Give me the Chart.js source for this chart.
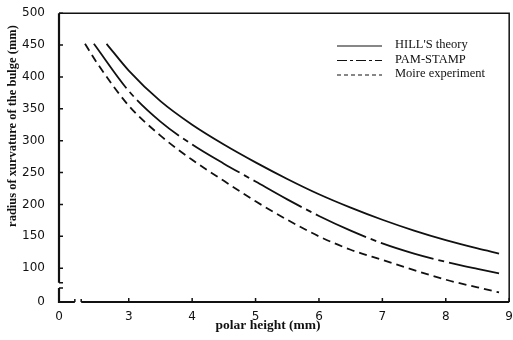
<!DOCTYPE html>
<html lang="en">
<head>
<title>Radius of curvature of the bulge</title>
<script src="https://cdn.jsdelivr.net/npm/chart.js"></script>
<style>
  html, body { margin: 0; padding: 0; background: #fff; }
  #wrap { width: 513px; height: 340px; }
</style>
</head>
<body>
<div id="wrap"><canvas id="bulgeChart" width="513" height="340"></canvas></div>
<script>
// values (polar height in mm, radius in mm)
const hillX = [2.65, 3.0, 3.5, 4.0, 4.5, 5.0, 5.5, 6.0, 6.5, 7.0, 7.5, 8.0, 8.5, 8.84];
const hillY = [452, 410, 362, 325, 294, 266, 240, 216, 195, 176, 159, 144, 131, 123];
const pamX = [2.45, 3.0, 3.5, 4.0, 4.5, 5.0, 5.5, 6.0, 6.5, 7.0, 7.5, 8.0, 8.5, 8.84];
const pamY = [452, 378, 330, 294, 264, 236, 208, 182, 159, 139, 123, 110, 99, 92];
const moireX = [2.31, 2.5, 3.0, 3.5, 4.0, 4.5, 5.0, 5.5, 6.0, 6.5, 7.0, 7.5, 8.0, 8.5, 8.84];
const moireY = [452, 422, 355, 308, 270, 237, 205, 176, 150, 129, 113, 97, 82, 70, 62];

const seriesNames = ["HILL'S theory", 'PAM-STAMP', 'Moire experiment'];

// broken axes: the lowest tick stands for 0
const xTicks = [1.9, 3, 4, 5, 6, 7, 8, 9];
const xTickLabels = ['0', '3', '4', '5', '6', '7', '8', '9'];
const yTicks = [47, 100, 150, 200, 250, 300, 350, 400, 450, 500];
const yTickLabels = ['0', '100', '150', '200', '250', '300', '350', '400', '450', '500'];

const xTitle = 'polar height (mm)';
const yTitle = 'radius of xurvature of the bulge (mm)';

function pts(xs, ys) { return xs.map((x, i) => ({ x: x, y: ys[i] })); }

const ink = '#111';
const legendDash = [[], [10, 3, 3, 3], [4, 3]];

const framePlugin = {
  id: 'frame',
  afterDraw(chart) {
    const ctx = chart.ctx, a = chart.chartArea;
    const xs = chart.scales.x, ys = chart.scales.y;
    ctx.save();
    ctx.strokeStyle = ink;
    // top and right border
    ctx.lineWidth = 1.5;
    ctx.beginPath();
    ctx.moveTo(a.left, a.top); ctx.lineTo(a.right, a.top); ctx.lineTo(a.right, a.bottom);
    ctx.stroke();
    // left and bottom axes with breaks
    ctx.lineWidth = 2.2;
    const xb1 = xs.getPixelForValue(2.15), xb2 = xs.getPixelForValue(2.25);
    const yb1 = ys.getPixelForValue(69), yb2 = ys.getPixelForValue(77);
    ctx.beginPath();
    ctx.moveTo(a.left, a.top); ctx.lineTo(a.left, yb2);
    ctx.moveTo(a.left, yb1); ctx.lineTo(a.left, a.bottom);
    ctx.lineTo(xb1, a.bottom);
    ctx.moveTo(xb2, a.bottom); ctx.lineTo(a.right, a.bottom);
    ctx.stroke();
    ctx.lineWidth = 1.5;
    ctx.beginPath();
    ctx.moveTo(a.left, yb2); ctx.lineTo(a.left + 4, yb2);
    ctx.moveTo(a.left, yb1); ctx.lineTo(a.left + 4, yb1);
    ctx.moveTo(xb1, a.bottom); ctx.lineTo(xb1, a.bottom - 3);
    ctx.moveTo(xb2, a.bottom); ctx.lineTo(xb2, a.bottom - 3);
    ctx.stroke();
    // inward ticks
    ctx.beginPath();
    yTicks.slice(1).forEach(v => {
      const p = ys.getPixelForValue(v);
      ctx.moveTo(a.left, p); ctx.lineTo(a.left + 4, p);
    });
    xTicks.slice(1).forEach(v => {
      const p = xs.getPixelForValue(v);
      ctx.moveTo(p, a.bottom); ctx.lineTo(p, a.bottom - 4);
    });
    ctx.stroke();
    // axis titles
    ctx.fillStyle = ink;
    ctx.font = 'bold 13.5px "Liberation Serif"';
    ctx.textAlign = 'center';
    ctx.textBaseline = 'middle';
    ctx.fillText(xTitle, 268, 326);
    ctx.translate(13, 126);
    ctx.rotate(-Math.PI / 2);
    ctx.font = 'bold 12.5px "Liberation Serif"';
    ctx.fillText(yTitle, 0, 0);
    ctx.restore();
    // legend
    ctx.save();
    ctx.font = '12.5px "Liberation Serif"';
    ctx.fillStyle = ink;
    ctx.strokeStyle = ink;
    ctx.lineWidth = 1.2;
    ctx.textBaseline = 'middle';
    seriesNames.forEach((name, i) => {
      const y = 46 + i * 14.5;
      ctx.setLineDash(legendDash[i]);
      ctx.beginPath(); ctx.moveTo(337, y); ctx.lineTo(382, y); ctx.stroke();
      ctx.fillText(name, 395, y - 1);
    });
    ctx.restore();
  }
};

const lineStyle = { borderColor: ink, borderWidth: 1.8, pointRadius: 0, fill: false,
  cubicInterpolationMode: 'monotone' };

new Chart(document.getElementById('bulgeChart'), {
  type: 'line',
  data: {
    datasets: [
      Object.assign({ label: seriesNames[0], data: pts(hillX, hillY) }, lineStyle),
      Object.assign({ label: seriesNames[1], data: pts(pamX, pamY), borderDash: [55, 5, 6, 5] }, lineStyle),
      Object.assign({ label: seriesNames[2], data: pts(moireX, moireY), borderDash: [8, 5] }, lineStyle)
    ]
  },
  options: {
    responsive: false,
    animation: false,
    layout: { padding: { top: 13, right: 2, left: 0, bottom: 0 } },
    plugins: { legend: { display: false }, tooltip: { enabled: false } },
    scales: {
      x: {
        type: 'linear', min: 1.9, max: 9,
        afterBuildTicks: s => { s.ticks = xTicks.map(v => ({ value: v })); },
        afterFit: s => { s.height = 38; },
        grid: { display: false }, border: { display: false },
        ticks: {
          padding: 0, color: ink, maxRotation: 0, autoSkip: false,
          font: { family: 'DejaVu Sans', size: 12 },
          callback: (v, i) => xTickLabels[i]
        }
      },
      y: {
        type: 'linear', min: 47, max: 500,
        afterBuildTicks: s => { s.ticks = yTicks.map(v => ({ value: v })); },
        afterFit: s => { s.width = 59; },
        grid: { display: false }, border: { display: false },
        ticks: {
          padding: 6, color: ink, autoSkip: false,
          font: { family: 'DejaVu Sans', size: 12 },
          callback: (v, i) => yTickLabels[i]
        }
      }
    }
  },
  plugins: [framePlugin]
});
</script>
</body>
</html>
